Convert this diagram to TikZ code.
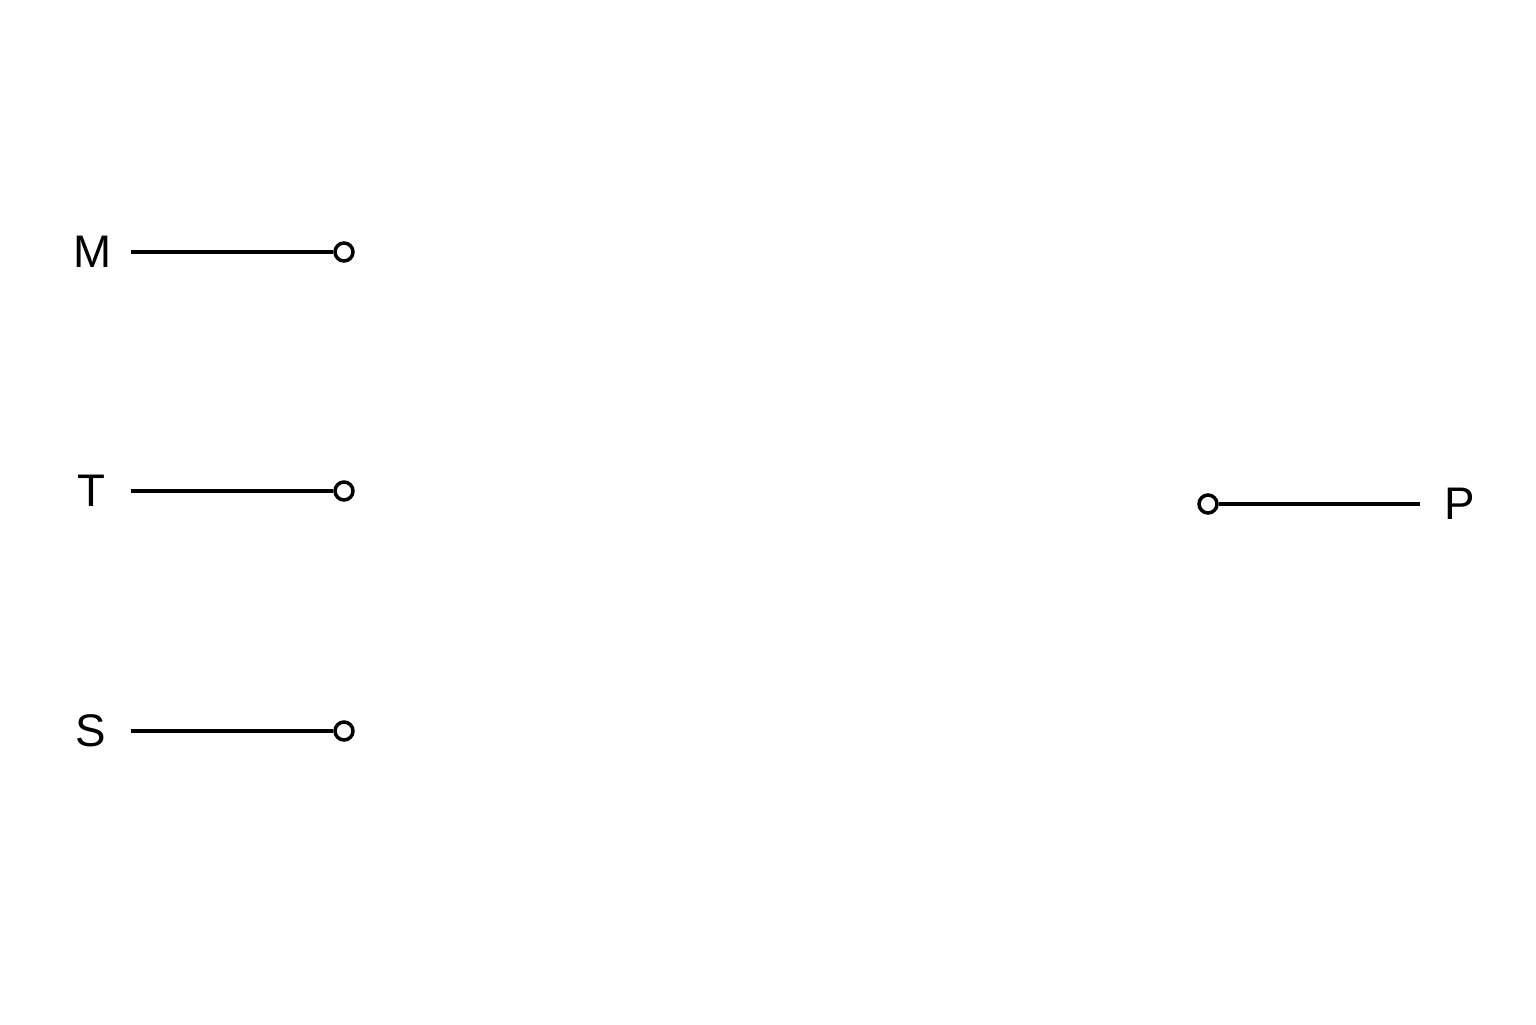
\documentclass[tikz,border=0pt]{standalone}
\usepackage{fontspec}
\setmainfont{Liberation Sans}
\usepackage{tikz}
\usetikzlibrary{arrows,positioning,shapes}

\begin{document}
\begin{tikzpicture}[
            pin/.style={draw,circle,minimum size=.18cm,inner sep=0,line width=1pt,fill=white},
            lab/.style={align=center,text width=.36cm,inner xsep=.2cm,inner ysep=0,node distance=2.53cm,font=\fontsize{13}{15}\selectfont},
            every path/.style={line width=1pt}
          ]
          \useasboundingbox (0,0) rectangle (15.36,10.24);
          \node[pin] (m) at (3.44,7.72) {};
          \node[pin] (t) at (3.44,5.33) {};
          \node[pin] (s) at (3.44,2.93) {};
          \node[pin] (p) at (12.08,5.20) {};

          %labels
          \node[left of = m,lab] (lm) {M};
          \node[left of = t,lab] (lt) {T};
          \node[left of = s,lab] (ls) {S};
          \node[right of = p,lab,node distance=2.52cm] (lp) {P};

          %leads
          \draw (lm) -- (m);
          \draw (lt) -- (t);
          \draw (ls) -- (s);
          \draw (p) -- (lp);
      \end{tikzpicture}
\end{document}
